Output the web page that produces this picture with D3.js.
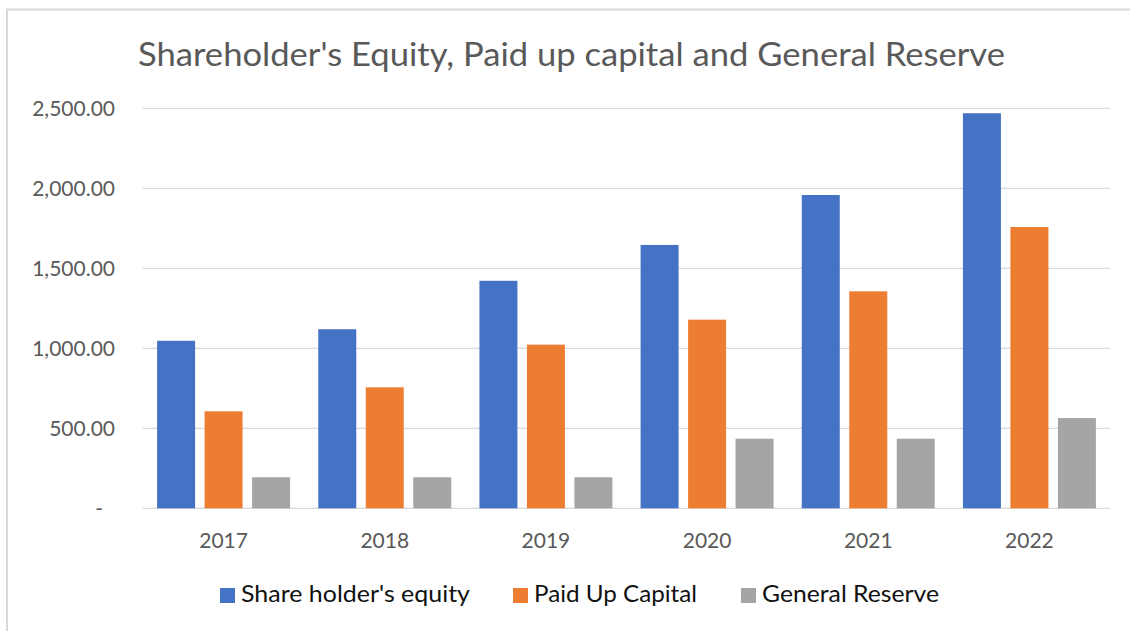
<!DOCTYPE html>
<html>
<head>
<meta charset="utf-8">
<script src="https://cdn.jsdelivr.net/npm/d3@7/dist/d3.min.js"></script>
<style>
  html, body { margin: 0; padding: 0; background: #fff; }
  svg { display: block; }
</style>
</head>
<body>
<svg id="chart" width="1130" height="631"></svg>
<script>
const years = ["2017", "2018", "2019", "2020", "2021", "2022"];
const seriesNames = ["Share holder's equity", "Paid Up Capital", "General Reserve"];
const shareholdersEquity = [1047, 1119, 1422, 1646, 1958, 2469];
const paidUpCapital = [606, 756, 1023, 1179, 1356, 1758];
const generalReserve = [194, 194, 194, 435, 435, 564];
const yTicks = [0, 500, 1000, 1500, 2000, 2500];
const colors = ["#4472C4", "#ED7D31", "#A5A5A5"];
const titleText = "Shareholder's Equity, Paid up capital and General Reserve";

const seriesValues = [shareholdersEquity, paidUpCapital, generalReserve];
const svg = d3.select("#chart");
const font = "Lato, 'Open Sans', sans-serif";

// outer frame (left and top edges visible)
svg.append("line").attr("x1", 7).attr("x2", 7).attr("y1", 9).attr("y2", 631)
  .attr("stroke", "#d9d9d9").attr("stroke-width", 2);
svg.append("line").attr("x1", 6).attr("x2", 1130).attr("y1", 9.5).attr("y2", 9.5)
  .attr("stroke", "#d9d9d9").attr("stroke-width", 2);

const x0 = d3.scaleBand().domain(years).range([143, 1110]).paddingInner(0).paddingOuter(0);
const x1 = d3.scaleBand().domain(seriesNames).range([0, x0.bandwidth()]).paddingInner(0.2).paddingOuter(0.297);
const y = d3.scaleLinear().domain([0, 2500]).range([508.3, 108.3]);

// gridlines
svg.append("g").selectAll("line").data(yTicks).join("line")
  .attr("x1", 143).attr("x2", 1110)
  .attr("y1", d => y(d)).attr("y2", d => y(d))
  .attr("stroke", "#d9d9d9").attr("stroke-width", 1.3);

// y axis labels
const fmt = d3.format(",.2f");
const yAxis = d3.axisLeft(y).tickValues(yTicks).tickSize(0).tickPadding(0)
  .tickFormat(d => d === 0 ? "-" : fmt(d));
const yG = svg.append("g").attr("transform", "translate(115,0)").call(yAxis);
yG.select(".domain").remove();
yG.selectAll("text").attr("font-family", font).attr("font-size", 21).attr("fill", "#595959")
  .attr("dx", d => d === 0 ? -12 : 0);

// x axis labels
const xAxis = d3.axisBottom(x0).tickSize(0).tickPadding(0);
const xG = svg.append("g").attr("transform", "translate(0,533)").call(xAxis);
xG.select(".domain").remove();
xG.selectAll("text").attr("font-family", font).attr("font-size", 21).attr("fill", "#595959")
  .attr("dy", "0.71em");

// bars
const groups = svg.append("g").selectAll("g").data(years).join("g")
  .attr("transform", d => `translate(${x0(d)},0)`);
groups.selectAll("rect")
  .data((d, i) => seriesNames.map((s, j) => ({ s, j, v: seriesValues[j][i] })))
  .join("rect")
  .attr("x", d => x1(d.s))
  .attr("width", x1.bandwidth())
  .attr("y", d => y(d.v))
  .attr("height", d => y(0) - y(d.v))
  .attr("fill", d => colors[d.j]);

// title
svg.append("text").attr("x", 138).attr("y", 66)
  .attr("font-family", font).attr("font-size", 32).attr("fill", "#595959")
  .attr("textLength", 867).attr("lengthAdjust", "spacingAndGlyphs")
  .text(titleText);

// legend
const legendX = [220, 513, 741];
const legendW = [229, 163, 177];
const lg = svg.append("g").selectAll("g").data(seriesNames).join("g")
  .attr("transform", (d, i) => `translate(${legendX[i]},588)`);
lg.append("rect").attr("width", 15).attr("height", 15).attr("fill", (d, i) => colors[i]);
lg.append("text").attr("x", 21).attr("y", 14)
  .attr("font-family", font).attr("font-size", 23).attr("fill", "#111")
  .attr("textLength", (d, i) => legendW[i]).attr("lengthAdjust", "spacingAndGlyphs")
  .text(d => d);
</script>
</body>
</html>
